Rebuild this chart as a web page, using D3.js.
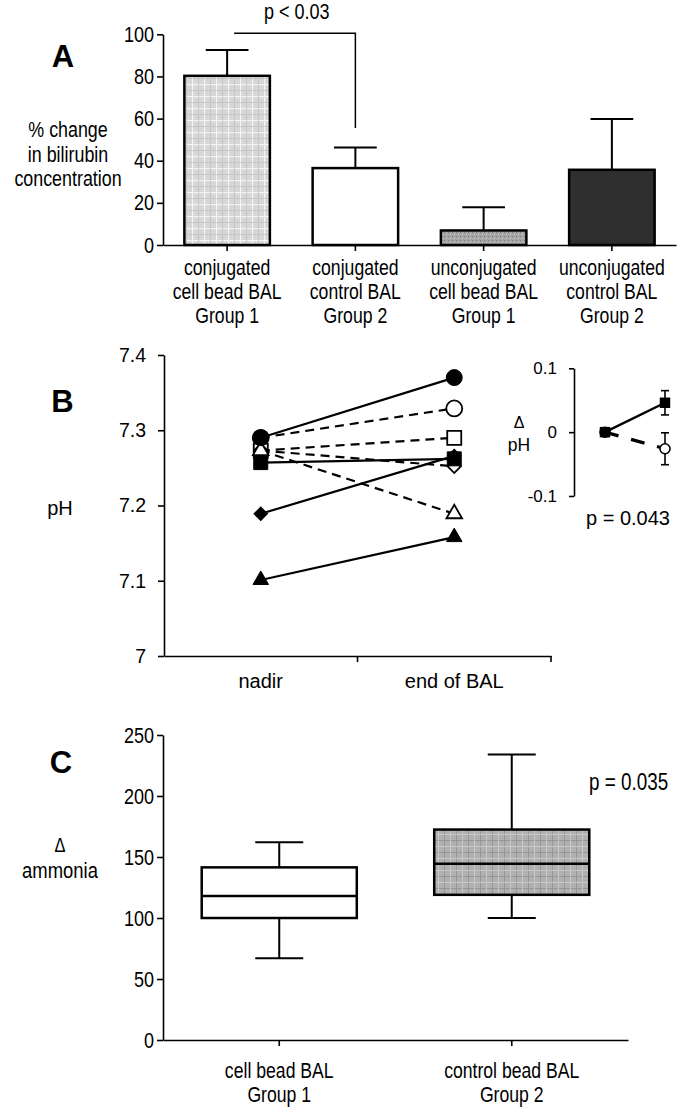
<!DOCTYPE html>
<html><head><meta charset="utf-8">
<script src="https://cdn.jsdelivr.net/npm/d3@7"></script>
<style>body{margin:0;background:#fff}svg{display:block}</style>
</head><body><svg id="c" width="683" height="1112"></svg>
<script>
// ---------- DATA ----------
// Panel A
const barLabels = [["conjugated","cell bead BAL","Group 1"],["conjugated","control BAL","Group 2"],["unconjugated","cell bead BAL","Group 1"],["unconjugated","control BAL","Group 2"]];
const barValues = [80.3, 36.5, 6.9, 35.7];
const barSEM = [12.3, 9.8, 11.0, 24.1];
const barTicks = [0, 20, 40, 60, 80, 100];
const barYTitle = ["% change", "in bilirubin", "concentration"];
const sigText = "p < 0.03";
const sigPair = [0, 1];
const sigTop = 100.5;
const sigBottom = 55.5;

// Panel B
const phTimes = ["nadir", "end of BAL"];
const phNadir = [7.290, 7.290, 7.273, 7.273, 7.273, 7.257, 7.189, 7.101];
const phEnd   = [7.370, 7.329, 7.290, 7.252, 7.189, 7.262, 7.266, 7.158];
const phSymbol = ["circle","circle","square","diamond","triangle","square","diamond","triangle"];
const phFilled = [true, false, false, false, false, true, true, true];
const phTicks = [7.0, 7.1, 7.2, 7.3, 7.4];
// inset
const dphPoints = ["start", "end"];
const dphGroup1 = [0, 0.046];
const dphGroup1Err = [0, 0.019];
const dphGroup2 = [0, -0.026];
const dphGroup2Err = [0, 0.025];
const dphTicks = [-0.1, 0, 0.1];
const dphP = "p = 0.043";

// Panel C
const boxLabels = [["cell bead BAL","Group 1"],["control bead BAL","Group 2"]];
const boxMin = [67, 100];
const boxQ1 = [100, 119];
const boxMedian = [118, 144.5];
const boxQ3 = [141.5, 172.5];
const boxMax = [162, 234];
const boxTicks = [0, 50, 100, 150, 200, 250];
const boxP = "p = 0.035";

// ---------- SETUP ----------
const svg = d3.select("#c");
function measure(fam){
  const t = svg.append("text").attr("font-family", fam).attr("font-size", 100).text("conjugated control");
  const w = t.node().getComputedTextLength(); t.remove(); return w;
}
const wN = measure("'Liberation Sans Narrow'"), wR = measure("'Liberation Sans'");
const hasNarrow = wN < wR * 0.9;
const NARROW = hasNarrow ? "'Liberation Sans Narrow', 'Liberation Sans', Arial, sans-serif" : "'Liberation Sans', Arial, sans-serif";
const SX = hasNarrow ? 1 : 0.82;
const ARIAL = "'Liberation Sans', Arial, sans-serif";

function ntext(g, x, y, str, size, anchor, weight){
  return g.append("text")
    .attr("transform", `translate(${x},${y}) scale(${SX},1)`)
    .attr("font-family", NARROW).attr("font-size", size)
    .attr("text-anchor", anchor || "middle").attr("font-weight", weight || "normal")
    .attr("fill", "#000").text(str);
}
function atext(g, x, y, str, size, anchor, weight){
  return g.append("text").attr("x", x).attr("y", y)
    .attr("font-family", ARIAL).attr("font-size", size)
    .attr("text-anchor", anchor || "middle").attr("font-weight", weight || "normal")
    .attr("fill", "#000").text(str);
}
function styleAxis(g, narrowLabels, size){
  g.select(".domain").attr("stroke", "#000").attr("stroke-width", 1.6);
  g.selectAll(".tick line").attr("stroke", "#000").attr("stroke-width", 1.6);
  const t = g.selectAll(".tick text").attr("fill", "#000").attr("font-size", size);
  if (narrowLabels) {
    t.attr("font-family", NARROW).each(function(){
      const el = d3.select(this); const x = +el.attr("x");
      el.attr("x", x / SX).attr("transform", `scale(${SX},1)`);
    });
  } else t.attr("font-family", ARIAL);
}

// patterns
const defs = svg.append("defs");
const p1 = defs.append("pattern").attr("id","patLight").attr("patternUnits","userSpaceOnUse").attr("width",12).attr("height",12);
p1.append("rect").attr("width",12).attr("height",12).attr("fill","#d6d6d6");
p1.append("rect").attr("width",1.2).attr("height",12).attr("fill","#f4f4f4");
p1.append("rect").attr("width",12).attr("height",1.2).attr("fill","#f4f4f4");
p1.append("rect").attr("x",6).attr("width",0.8).attr("height",12).attr("fill","#c2c2c2");
p1.append("rect").attr("y",6).attr("width",12).attr("height",0.8).attr("fill","#c2c2c2");
const p2 = defs.append("pattern").attr("id","patMid").attr("patternUnits","userSpaceOnUse").attr("width",4).attr("height",4);
p2.append("rect").attr("width",4).attr("height",4).attr("fill","#a6a6a6");
p2.append("rect").attr("width",1).attr("height",1).attr("fill","#7a7a7a");
p2.append("rect").attr("x",2).attr("y",2).attr("width",1).attr("height",1).attr("fill","#c8c8c8");
const p3 = defs.append("pattern").attr("id","patBox").attr("patternUnits","userSpaceOnUse").attr("width",12).attr("height",12);
p3.append("rect").attr("width",12).attr("height",12).attr("fill","#b0b0b0");
p3.append("rect").attr("width",1).attr("height",12).attr("fill","#959595");
p3.append("rect").attr("width",12).attr("height",1).attr("fill","#959595");
p3.append("rect").attr("x",6).attr("width",1).attr("height",12).attr("fill","#c8c8c8");
p3.append("rect").attr("y",6).attr("width",12).attr("height",1).attr("fill","#c8c8c8");
const barFillFor = i => ["url(#patLight)", "#ffffff", "url(#patMid)", "#2f2f2f"][i];

// ---------- PANEL A ----------
const gA = svg.append("g");
const xA = d3.scaleBand().domain(d3.range(barValues.length)).range([163, 676]).paddingInner(1/3).paddingOuter(1/6);
const yA = d3.scaleLinear().domain([0, 100]).range([245, 34.3]);

gA.append("g").attr("transform", "translate(163,0)")
  .call(d3.axisLeft(yA).tickValues(barTicks).tickSize(6).tickSizeOuter(0).tickPadding(3))
  .call(g => styleAxis(g, true, 22));
gA.append("g").attr("transform", "translate(0,245)")
  .call(d3.axisBottom(d3.scaleLinear().domain([0,1]).range([163, 676])).tickValues([]).tickSizeOuter(0))
  .call(g => styleAxis(g, false, 1));
gA.selectAll(".xt").data(barValues).join("line").attr("class","xt")
  .attr("x1", (d,i) => xA(i) + xA.bandwidth()/2).attr("x2", (d,i) => xA(i) + xA.bandwidth()/2)
  .attr("y1", 245).attr("y2", 251).attr("stroke", "#000").attr("stroke-width", 1.6);

// error bars
barValues.forEach((v, i) => {
  const cx = xA(i) + xA.bandwidth()/2;
  gA.append("line").attr("x1", cx).attr("x2", cx).attr("y1", yA(v)).attr("y2", yA(v + barSEM[i]))
    .attr("stroke", "#000").attr("stroke-width", 2);
  gA.append("line").attr("x1", cx - xA.bandwidth()/4).attr("x2", cx + xA.bandwidth()/4)
    .attr("y1", yA(v + barSEM[i])).attr("y2", yA(v + barSEM[i])).attr("stroke", "#000").attr("stroke-width", 2);
});
gA.selectAll(".bar").data(barValues).join("rect").attr("class","bar")
  .attr("x", (d,i) => xA(i)).attr("width", xA.bandwidth())
  .attr("y", d => yA(d)).attr("height", d => yA(0) - yA(d))
  .attr("fill", (d,i) => barFillFor(i)).attr("stroke", "#000").attr("stroke-width", 2.5);

// significance bracket
{
  const xs = xA(sigPair[0]) + xA.bandwidth()/2 + 7, xe = xA(sigPair[1]) + xA.bandwidth()/2;
  gA.append("path").attr("d", `M${xs},${yA(sigTop)}H${xe}V${yA(sigBottom)}`)
    .attr("fill", "none").attr("stroke", "#000").attr("stroke-width", 1.5);
  ntext(gA, (xs + xe)/2 + 2, 19, sigText, 22);
}
// category labels
barLabels.forEach((lines, i) => {
  const cx = xA(i) + xA.bandwidth()/2;
  lines.forEach((s, k) => ntext(gA, cx, 274.5 + k * 24, s, 21.5));
});
barYTitle.forEach((s, k) => ntext(gA, 68, 137 + k * 24.5, s, 21.8));
atext(gA, 63, 67, "A", 31, "middle", "bold");

// ---------- PANEL B ----------
const gB = svg.append("g");
const xB = d3.scaleBand().domain(phTimes).range([164, 551]);
const yB = d3.scaleLinear().domain([7.0, 7.4]).range([656, 355]);
gB.append("g").attr("transform", "translate(164,0)")
  .call(d3.axisLeft(yB).tickValues(phTicks).tickSize(6).tickSizeOuter(0).tickPadding(12)
    .tickFormat(d => d === 7 ? "7" : d.toFixed(1)))
  .call(g => styleAxis(g, false, 19.5));
gB.append("g").attr("transform", "translate(0,656)")
  .call(d3.axisBottom(xB).tickValues([]).tickSizeOuter(0))
  .call(g => styleAxis(g, false, 1));
phTimes.forEach(t => {
  const xx = xB(t) + xB.bandwidth();
  gB.append("line").attr("x1", xx).attr("x2", xx).attr("y1", 656).attr("y2", 662).attr("stroke","#000").attr("stroke-width",1.6);
});
phTimes.forEach(t => atext(gB, xB(t) + xB.bandwidth()/2, 688, t, 20));
atext(gB, 60, 515, "pH", 20);
atext(gB, 62.5, 412, "B", 31, "middle", "bold");

const cxN = xB(phTimes[0]) + xB.bandwidth()/2, cxE = xB(phTimes[1]) + xB.bandwidth()/2;
// lines
phNadir.forEach((v, i) => {
  gB.append("line").attr("x1", cxN).attr("y1", yB(v)).attr("x2", cxE).attr("y2", yB(phEnd[i]))
    .attr("stroke", "#000").attr("stroke-width", 2.2)
    .attr("stroke-dasharray", phFilled[i] ? null : "9,6");
});
function symPath(s){
  if (s === "circle") return d3.symbol(d3.symbolCircle, 200)();
  if (s === "square") return d3.symbol(d3.symbolSquare, 196)();
  if (s === "triangle") return d3.symbol(d3.symbolTriangle, 105)();
  if (s === "diamond") return d3.symbol(d3.symbolSquare, 90)();
}
const order = d3.range(phNadir.length).sort((a,b) => (phFilled[a] - phFilled[b]));
order.forEach(i => {
  [[cxN, phNadir[i]], [cxE, phEnd[i]]].forEach(([x, v]) => {
    gB.append("path").attr("d", symPath(phSymbol[i]))
      .attr("transform", `translate(${x},${yB(v)})` + (phSymbol[i] === "diamond" ? " rotate(45)" : ""))
      .attr("fill", phFilled[i] ? "#000" : "#fff")
      .attr("stroke", "#000").attr("stroke-width", phFilled[i] ? 1 : 1.8);
  });
});

// inset
const gI = svg.append("g");
const xI = d3.scalePoint().domain(dphPoints).range([605, 665]);
const yI = d3.scaleLinear().domain([-0.1, 0.1]).range([496, 368.3]);
gI.append("g").attr("transform", "translate(574,0)")
  .call(d3.axisLeft(yI).tickValues(dphTicks).tickSize(5).tickSizeOuter(0).tickPadding(12)
    .tickFormat(d => d === 0 ? "0" : d.toFixed(1)))
  .call(g => styleAxis(g, false, 17));
atext(gI, 519, 428, "Δ", 16);
atext(gI, 519, 451, "pH", 17.5);
gI.append("line").attr("x1", xI(dphPoints[0])).attr("y1", yI(dphGroup2[0])).attr("x2", xI(dphPoints[1])).attr("y2", yI(dphGroup2[1]))
  .attr("stroke", "#000").attr("stroke-width", 3.2).attr("stroke-dasharray", "14,13");
gI.append("line").attr("x1", xI(dphPoints[0])).attr("y1", yI(dphGroup1[0])).attr("x2", xI(dphPoints[1])).attr("y2", yI(dphGroup1[1]))
  .attr("stroke", "#000").attr("stroke-width", 2.4);
[[dphGroup2, dphGroup2Err], [dphGroup1, dphGroup1Err]].forEach(([vals, errs]) => {
  vals.forEach((v, k) => {
    if (errs[k] > 0) {
      const x = xI(dphPoints[k]);
      gI.append("line").attr("x1", x).attr("x2", x).attr("y1", yI(v - errs[k])).attr("y2", yI(v + errs[k])).attr("stroke","#000").attr("stroke-width",1.6);
      [v - errs[k], v + errs[k]].forEach(e => gI.append("line").attr("x1", x - 4).attr("x2", x + 4).attr("y1", yI(e)).attr("y2", yI(e)).attr("stroke","#000").attr("stroke-width",1.6));
    }
  });
});
dphGroup2.forEach((v, k) => gI.append("circle").attr("cx", xI(dphPoints[k])).attr("cy", yI(v)).attr("r", 5)
  .attr("fill", "#fff").attr("stroke", "#000").attr("stroke-width", 1.5));
dphGroup1.forEach((v, k) => gI.append("path").attr("d", d3.symbol(d3.symbolSquare, 110)())
  .attr("transform", `translate(${xI(dphPoints[k])},${yI(v)})`).attr("fill", "#000"));
atext(gI, 586, 525, dphP, 20, "start");

// ---------- PANEL C ----------
const gC = svg.append("g");
const xC = d3.scaleBand().domain(d3.range(boxMin.length)).range([163, 628]);
const yC = d3.scaleLinear().domain([0, 250]).range([1040, 735]);
gC.append("g").attr("transform", "translate(163,0)")
  .call(d3.axisLeft(yC).tickValues(boxTicks).tickSize(6).tickSizeOuter(0).tickPadding(3))
  .call(g => styleAxis(g, true, 22));
gC.append("g").attr("transform", "translate(0,1040)")
  .call(d3.axisBottom(d3.scaleLinear().domain([0,1]).range([163, 628])).tickValues([]).tickSizeOuter(0))
  .call(g => styleAxis(g, false, 1));
const bw = xC.bandwidth() * 0.667;
boxMin.forEach((mn, i) => {
  const cx = xC(i) + xC.bandwidth()/2;
  gC.append("line").attr("x1", cx).attr("x2", cx).attr("y1", 1040).attr("y2", 1046).attr("stroke","#000").attr("stroke-width",1.6);
  gC.append("line").attr("x1", cx).attr("x2", cx).attr("y1", yC(mn)).attr("y2", yC(boxMax[i])).attr("stroke","#000").attr("stroke-width",2);
  [mn, boxMax[i]].forEach(v => gC.append("line").attr("x1", cx - 24).attr("x2", cx + 24).attr("y1", yC(v)).attr("y2", yC(v)).attr("stroke","#000").attr("stroke-width",2));
  gC.append("rect").attr("x", cx - bw/2).attr("width", bw).attr("y", yC(boxQ3[i])).attr("height", yC(boxQ1[i]) - yC(boxQ3[i]))
    .attr("fill", i === 0 ? "#fff" : "url(#patBox)").attr("stroke", "#000").attr("stroke-width", 2.5);
  gC.append("line").attr("x1", cx - bw/2).attr("x2", cx + bw/2).attr("y1", yC(boxMedian[i])).attr("y2", yC(boxMedian[i])).attr("stroke","#000").attr("stroke-width",2.5);
  boxLabels[i].forEach((s, k) => ntext(gC, cx, 1078 + k * 24, s, 21.5));
});
ntext(gC, 60, 852, "Δ", 20);
ntext(gC, 60, 878, "ammonia", 22.5);
ntext(gC, 589, 790, boxP, 23, "start");
atext(gC, 61, 773, "C", 31, "middle", "bold");
</script>
</body></html>
